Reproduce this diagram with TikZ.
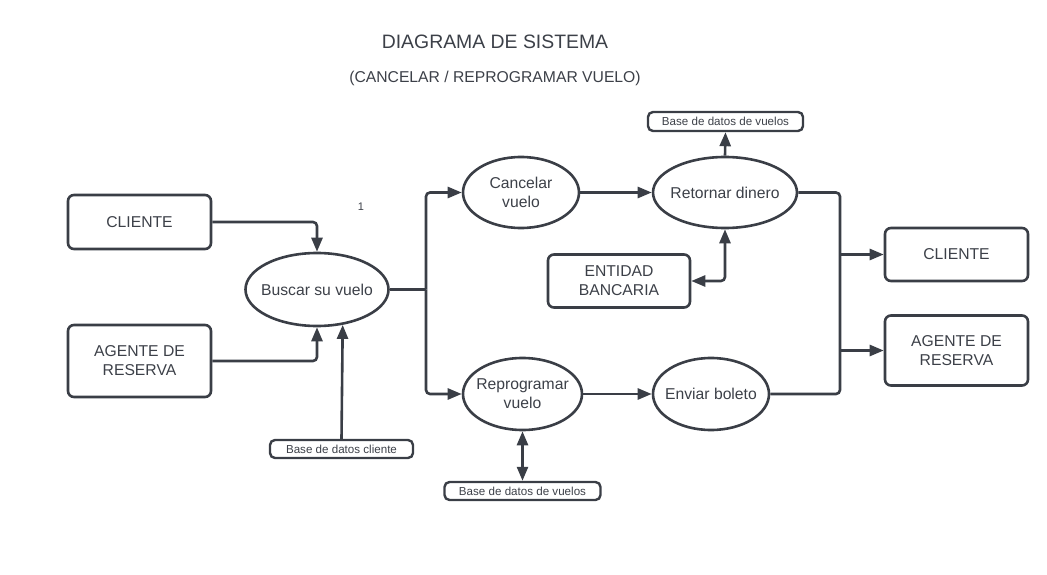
\documentclass[tikz,border=0pt]{standalone}
\usepackage{fontspec}
\setmainfont{Liberation Sans}
\usetikzlibrary{arrows.meta,shapes.geometric}
\definecolor{ln}{RGB}{58,62,70}
\definecolor{tx}{RGB}{60,64,72}
\tikzset{
  base/.style={draw=ln, line width=2.6pt, text=tx, inner sep=0pt, align=center},
  box/.style={base, rounded corners=6pt, font=\fontsize{15.7}{19}\selectfont},
  sbox/.style={base, rounded corners=5pt, line width=2.4pt, font=\fontsize{11.6}{13}\selectfont},
  proc/.style={base, ellipse, inner sep=-60pt, font=\fontsize{15.7}{19}\selectfont},
  con/.style={draw=ln, line width=2.6pt, rounded corners=4pt},
  arr/.style={con, -{Triangle[length=14pt,width=11pt]}},
  arrb/.style={con, {Triangle[length=14pt,width=11pt]}-{Triangle[length=14pt,width=11pt]}},
  lbl/.style={text=tx, inner sep=0pt}
}
\begin{document}
\begin{tikzpicture}[x=1pt,y=-1pt]
\useasboundingbox (0,0) rectangle (1047,575);
\node[lbl, font=\fontsize{19.4}{23}\selectfont] (title) at (495,42) {DIAGRAMA DE SISTEMA};
\node[lbl, font=\fontsize{15.7}{19}\selectfont] (sub) at (495,78) {(CANCELAR / REPROGRAMAR VUELO)};
\node[lbl, font=\fontsize{11}{13}\selectfont] (one) at (361,207) {1};

\node[box, minimum width=143pt, minimum height=54pt] (cl) at (139.5,222) {CLIENTE};
\node[box, minimum width=143pt, minimum height=72pt] (ag) at (139.5,361) {AGENTE DE\\RESERVA};
\node[proc, minimum width=143pt, minimum height=73pt] (bus) at (317,289.5) {Buscar su vuelo};
\node[sbox, minimum width=143pt, minimum height=18pt] (bdc) at (341.5,449) {Base de datos cliente};

\node[proc, minimum width=116pt, minimum height=71pt] (can) at (521,192.5) {Cancelar\\vuelo};
\node[proc, minimum width=144pt, minimum height=71pt] (ret) at (725,192.5) {Retornar dinero};
\node[sbox, minimum width=155pt, minimum height=19pt] (bdv1) at (725.5,121.5) {Base de datos de vuelos};
\node[box, minimum width=142pt, minimum height=53pt] (ent) at (619,281) {ENTIDAD\\BANCARIA};

\node[proc, minimum width=119pt, minimum height=72pt] (rep) at (522.5,394) {Reprogramar\\vuelo};
\node[proc, minimum width=116pt, minimum height=72pt] (env) at (711,394) {Enviar boleto};
\node[sbox, minimum width=156pt, minimum height=18pt] (bdv2) at (522.5,491) {Base de datos de vuelos};

\node[box, minimum width=143pt, minimum height=53pt] (cl2) at (956.5,254.5) {CLIENTE};
\node[box, minimum width=143pt, minimum height=70pt] (ag2) at (956.5,350.5) {AGENTE DE\\RESERVA};

\coordinate (j1) at (426,289.5);
\coordinate (j2) at (840,394);

\draw[arr] (cl.east) -| (bus.north);
\draw[arr] (ag.east) -| (bus.south);
\draw[arr] (bdc.north) -- (bus.-54.5);
\draw[con] (bus.east) -- (j1);
\draw[arr] (j1) |- (can.west);
\draw[arr] (j1) |- (rep.west);
\draw[arr] (can.east) -- (ret.west);
\draw[arr] (ret.north) -- (bdv1.south);
\draw[arrb] (ent.east) -| (ret.south);
\draw[arr] (rep.east) -- (env.west);
\draw[arrb] (bdv2.north) -- (rep.south);
\draw[con] (ret.east) -| (j2) -- (env.east);
\draw[arr] (cl2.west -| j2) -- (cl2.west);
\draw[arr] (ag2.west -| j2) -- (ag2.west);
\end{tikzpicture}
\end{document}
